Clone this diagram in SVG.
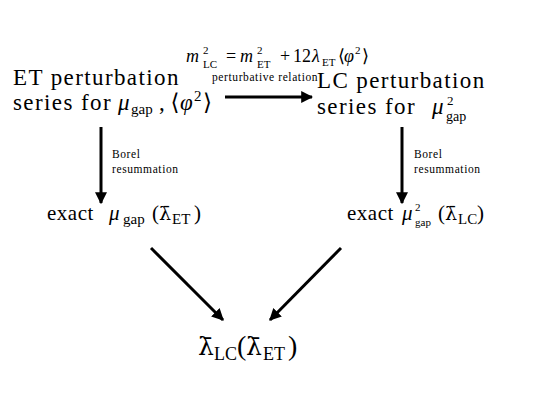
<svg xmlns="http://www.w3.org/2000/svg" width="540" height="405" viewBox="0 0 540 405">
<style>
text{font-family:"Liberation Serif","DejaVu Serif",serif;fill:#000}
.big{font-size:23px;letter-spacing:1.4px}
.mid{font-size:21px;letter-spacing:0.5px}
.eq{font-size:18px}
.sm{font-size:11.5px;letter-spacing:0.6px}
.bot{font-size:28px}
.i{font-style:italic;letter-spacing:0}
.u{letter-spacing:0}
.L{font-family:"DejaVu Serif",serif;letter-spacing:0}
.s{font-size:11px;letter-spacing:0}
.s2{font-size:15px;letter-spacing:0}
.s3{font-size:15px;letter-spacing:0}
.s4{font-size:18px;letter-spacing:0}
.c{stroke:#000;stroke-width:3;fill:none}
</style>
<defs>
<marker id="ah" viewBox="0 0 10 10" refX="9" refY="5" markerWidth="4" markerHeight="4" orient="auto" markerUnits="strokeWidth">
<path d="M0,0 L10,5 L0,10 Z" fill="#000"/>
</marker>
</defs>
<g id="connectors">
<line class="c" x1="225" y1="97" x2="312" y2="97" marker-end="url(#ah)"/>
<line class="c" x1="101" y1="127" x2="101" y2="203" marker-end="url(#ah)"/>
<line class="c" x1="402" y1="127" x2="402" y2="203" marker-end="url(#ah)"/>
<line class="c" x1="151" y1="248" x2="223" y2="320" marker-end="url(#ah)"/>
<line class="c" x1="341" y1="248" x2="270" y2="320" marker-end="url(#ah)"/>
<text class="eq" x="186" y="62"><tspan class="i">m</tspan><tspan class="s" x="203" y="54">2</tspan><tspan class="s" x="203" y="68">LC</tspan><tspan x="226" y="62">=</tspan><tspan class="i" x="240">m</tspan><tspan class="s" x="257" y="54">2</tspan><tspan class="s" x="257" y="68">ET</tspan><tspan x="280" y="62">+</tspan><tspan x="293" y="62">12</tspan><tspan class="i" x="312">λ</tspan><tspan class="s" x="322" y="66">ET</tspan><tspan x="338" y="62">⟨</tspan><tspan class="i" x="344">φ</tspan><tspan class="s" x="355" y="54">2</tspan><tspan x="362" y="62">⟩</tspan></text>
<text class="sm" x="212" y="81">perturbative relation</text>
<text class="sm" x="112" y="158">Borel</text>
<text class="sm" x="112" y="173">resummation</text>
<text class="sm" x="414" y="158">Borel</text>
<text class="sm" x="414" y="173">resummation</text>
</g>
<g id="et-series">
<text class="big" x="13" y="85">ET perturbation</text>
<text class="big" x="13" y="110">series for<tspan class="i" x="118">μ</tspan><tspan class="s2" x="131" y="114">gap</tspan><tspan class="u" x="159" y="110">, ⟨</tspan><tspan class="i" x="180">φ</tspan><tspan class="s2" x="194" y="101">2</tspan><tspan class="u" x="203" y="110">⟩</tspan></text>
</g>
<g id="lc-series">
<text class="big" x="317" y="88">LC perturbation</text>
<text class="big" x="317" y="114">series for<tspan class="i" x="432">μ</tspan><tspan font-size="13" class="u" x="447" y="105">2</tspan><tspan font-size="14" class="u" x="446" y="121">gap</tspan></text>
</g>
<g id="exact-et">
<text class="mid" x="47" y="220">exact<tspan class="i" x="109">μ</tspan><tspan class="s3" x="123" y="224">gap</tspan><tspan class="u" x="152" y="220">(</tspan><tspan class="L" x="159" font-size="19">λ̄</tspan><tspan class="s3" x="172" y="224">ET</tspan><tspan class="u" x="194" y="220">)</tspan></text>
</g>
<g id="exact-lc">
<text class="mid" x="347" y="220">exact<tspan class="i" x="402">μ</tspan><tspan class="s" x="415" y="211">2</tspan><tspan class="s" x="415" y="226">gap</tspan><tspan class="u" x="438" y="220">(</tspan><tspan class="L" x="445" font-size="19">λ̄</tspan><tspan class="s3" x="458" y="224">LC</tspan><tspan class="u" x="477" y="220">)</tspan></text>
</g>
<g id="result">
<text class="bot" x="198" y="355"><tspan class="L" font-size="25">λ̄</tspan><tspan class="s4" x="214" y="360">LC</tspan><tspan x="237" y="355">(</tspan><tspan class="L" x="246" font-size="25">λ̄</tspan><tspan class="s4" x="263" y="360">ET</tspan><tspan x="288" y="355">)</tspan></text>
</g>
</svg>
